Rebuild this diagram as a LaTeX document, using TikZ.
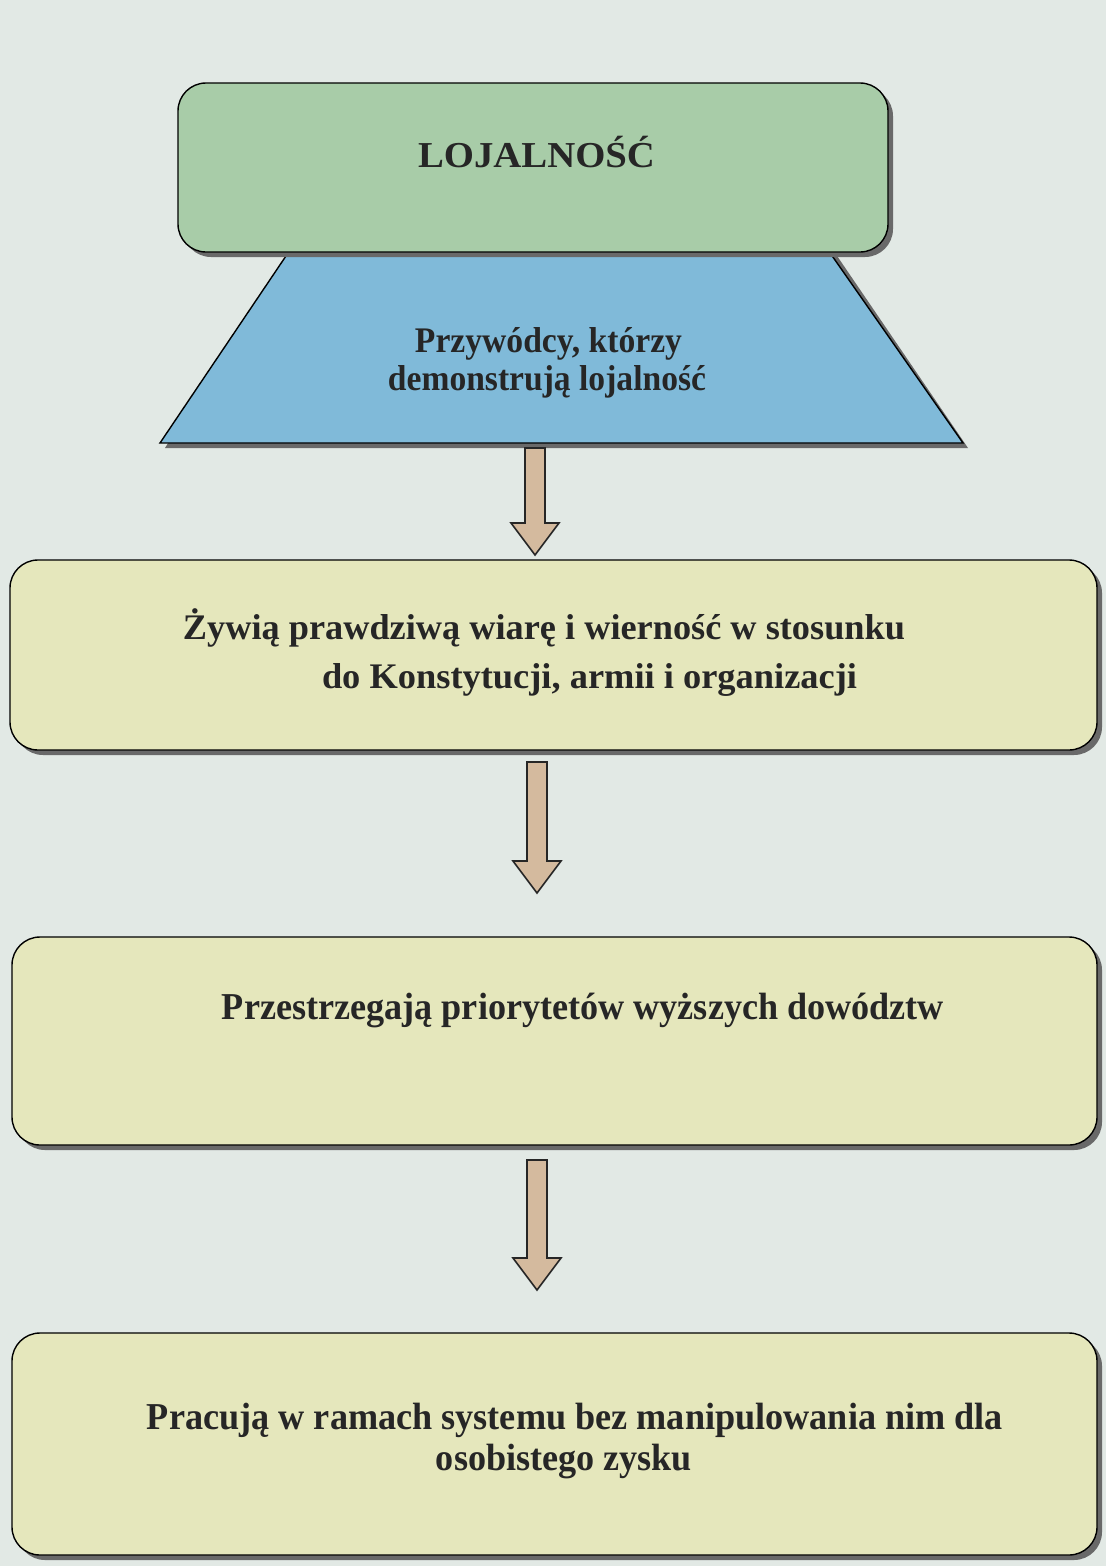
\documentclass[tikz,border=0pt]{standalone}
\usepackage{fontspec}
\usepackage{graphicx}
\setmainfont{Liberation Serif}
\usetikzlibrary{calc}
\definecolor{pagebg}{RGB}{226,233,229}
\definecolor{topgreen}{RGB}{168,204,168}
\definecolor{trapblue}{RGB}{128,186,217}
\definecolor{paleyellow}{RGB}{229,231,188}
\definecolor{arrowtan}{RGB}{212,186,158}
\definecolor{shadowgray}{RGB}{105,105,105}
\tikzset{
  panel/.style={draw=black, line width=1.4pt, rounded corners=28pt, inner sep=0pt},
  label/.style={text=black!85, inner sep=0pt, anchor=base},
  fatarrow/.style={draw=black!85, line width=1.6pt, fill=arrowtan, line join=miter},
}
% bold text of a given size, stretched to a given width
\newcommand\textline[3]{\fontsize{#1}{#1}\bfseries\resizebox{#2pt}{\height}{#3}}
% shadowed rounded panel: name, centre, width, height, fill
\newcommand\panelbox[5]{%
  \fill[shadowgray, rounded corners=28pt] ($(#2)+(-#3/2+5,-#4/2+5)$) rectangle ($(#2)+(#3/2+5,#4/2+5)$);
  \node[panel, fill=#5, minimum width=#3pt, minimum height=#4pt] (#1) at (#2) {};}
% thick down arrow between two points
\newcommand\thickarrow[2]{%
  \draw[fatarrow] ($(#1)+(-10,0)$) -- ($(#2)+(-10,-32)$) -- ($(#2)+(-24,-32)$) -- (#2)
    -- ($(#2)+(24,-32)$) -- ($(#2)+(10,-32)$) -- ($(#1)+(10,0)$) -- cycle;}
\begin{document}
\begin{tikzpicture}[x=1pt,y=-1pt]
\fill[pagebg] (0,0) rectangle (1106,1566);
\useasboundingbox (0,0) rectangle (1106,1566);

% trapezium with its shadow
\coordinate (tl) at (290,250);
\coordinate (tr) at (828,250);
\coordinate (bl) at (160,443);
\coordinate (br) at (963,443);
\fill[shadowgray] ($(bl)+(5,5)$) -- ($(br)+(5,5)$) -- ($(tr)+(5,0)$) -- (tl) -- cycle;
\draw[fill=trapblue, line width=1.4pt, line join=miter] (tl) -- (tr) -- (br) -- (bl) -- cycle;
\node[label] (lead1) at (548.5,352) {\textline{36}{267}{Przywódcy, którzy}};
\node[label] (lead2) at (547,390) {\textline{36}{318}{demonstrują lojalność}};

% top panel
\panelbox{loyal}{533,167.5}{710}{169}{topgreen}
\node[label] (loyaltxt) at (536.5,167) {\textline{36.5}{237}{LOJALNOŚĆ}};

% lower panels
\panelbox{faith}{553.5,655}{1087}{190}{paleyellow}
\node[label] (faith1) at (544,639) {\textline{36}{722}{Żywią prawdziwą wiarę i wierność w stosunku}};
\node[label] (faith2) at (589.5,688) {\textline{36}{535}{do Konstytucji, armii i organizacji}};

\panelbox{prior}{554.5,1041}{1085}{208}{paleyellow}
\node[label] (prior1) at (583,1019) {\textline{38}{722}{Przestrzegają priorytetów wyższych dowództw}};

\panelbox{work}{554.5,1444}{1085}{222}{paleyellow}
\node[label] (work1) at (575,1429) {\textline{38}{856}{Pracują w ramach systemu bez manipulowania nim dla}};
\node[label] (work2) at (564,1470) {\textline{38}{256}{osobistego zysku}};

% connectors
\coordinate (a1s) at (535,448);  \coordinate (a1e) at (535,555);
\coordinate (a2s) at (537,762);  \coordinate (a2e) at (537,893);
\coordinate (a3s) at (537,1160); \coordinate (a3e) at (537,1290);
\thickarrow{a1s}{a1e}
\thickarrow{a2s}{a2e}
\thickarrow{a3s}{a3e}
\end{tikzpicture}
\end{document}
